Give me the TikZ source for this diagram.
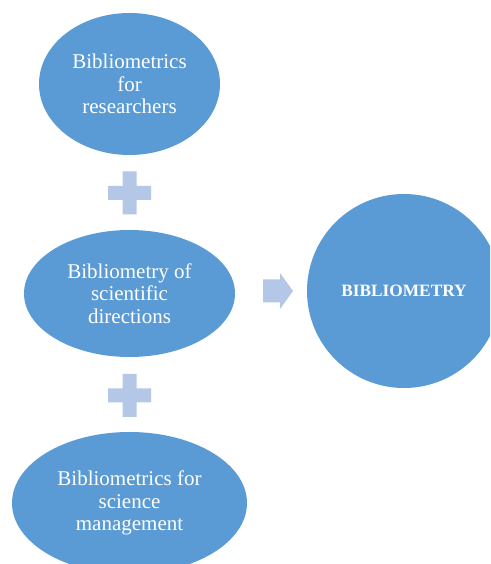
\documentclass[tikz,border=0pt]{standalone}
\usepackage{fontspec}
\setmainfont{Liberation Serif}
\usetikzlibrary{shapes.geometric}
\definecolor{blueFill}{HTML}{5B9BD5}
\definecolor{lightBlue}{HTML}{B4C7E7}
\tikzset{
  oval/.style={ellipse, fill=blueFill, draw=none, inner sep=0pt, text=white, align=center,
    font=\fontsize{21}{22.7}\selectfont},
  bigcircle/.style={circle, fill=blueFill, draw=none, inner sep=0pt, text=white,
    font=\fontsize{17.3}{20}\selectfont\bfseries},
  plusshape/.style={fill=lightBlue, draw=none},
}
\begin{document}
\begin{tikzpicture}[x=1pt,y=1pt]
\useasboundingbox (0,0) rectangle (490,564);
\clip (0,0) rectangle (490,564);
\fill[white] (0,0) rectangle (490,564);
% ellipses
\node[oval, minimum width=181, minimum height=142] (e1) at (129.5,480) {Bibliometrics\\for\\researchers};
\node[oval, minimum width=211, minimum height=127] (e2) at (129.5,270.5) {Bibliometry of\\scientific\\directions};
\node[oval, minimum width=235, minimum height=142] (e3) at (129.5,61) {Bibliometrics for\\science\\management};
\node[bigcircle, minimum size=194] (c) at (404,273) {BIBLIOMETRY};
% plus signs
\coordinate (p1) at (129.5,371);
\coordinate (p2) at (129.5,168.5);
\foreach \p in {p1,p2}{
  \fill[plusshape] ([shift={(-7,-21.5)}]\p) -- ([shift={(7,-21.5)}]\p) -- ([shift={(7,-7)}]\p)
    -- ([shift={(21.5,-7)}]\p) -- ([shift={(21.5,7)}]\p) -- ([shift={(7,7)}]\p)
    -- ([shift={(7,21.5)}]\p) -- ([shift={(-7,21.5)}]\p) -- ([shift={(-7,7)}]\p)
    -- ([shift={(-21.5,7)}]\p) -- ([shift={(-21.5,-7)}]\p) -- ([shift={(-7,-7)}]\p) -- cycle;
}
% arrow
\coordinate (ar) at (263,273);
\fill[plusshape] ([shift={(0,-11.5)}]ar) -- ([shift={(17,-11.5)}]ar) -- ([shift={(17,-18)}]ar)
  -- ([shift={(30,0)}]ar) -- ([shift={(17,18)}]ar) -- ([shift={(17,11.5)}]ar)
  -- ([shift={(0,11.5)}]ar) -- cycle;
\end{tikzpicture}
\end{document}
